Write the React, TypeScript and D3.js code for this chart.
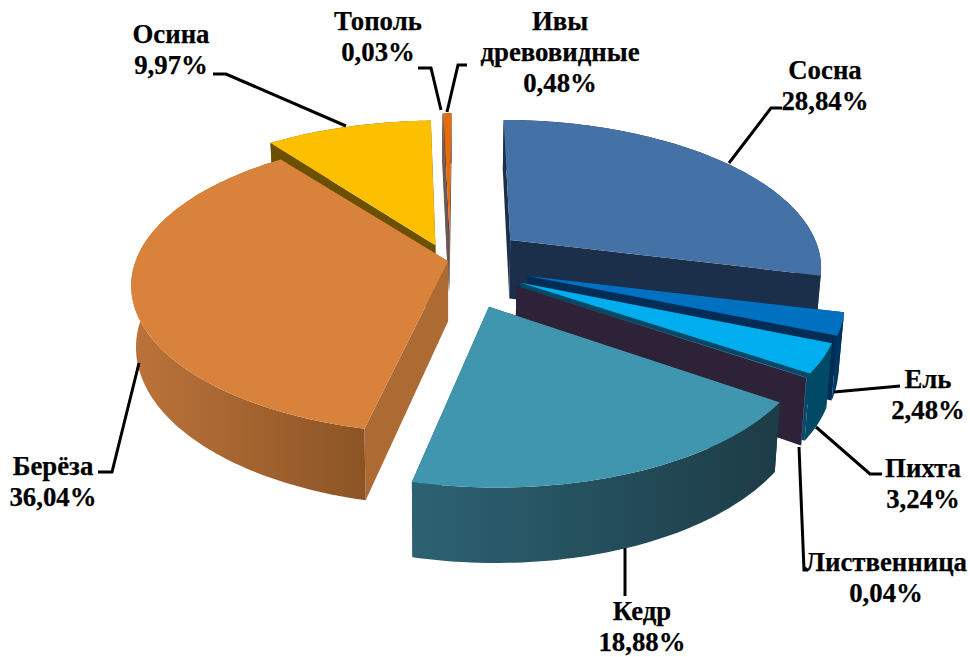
import React from "react";
import * as d3 from "d3";

// ---- data
const names = ["Сосна", "Ель", "Пихта", "Лиственница", "Кедр", "Берёза", "Осина", "Тополь", "Ивы древовидные"];
const values = [28.84, 2.48, 3.24, 0.04, 18.88, 36.04, 9.97, 0.03, 0.48];

// ---- styling per slice
const topColors = ["#4472a6", "#0070c0", "#00aeef", "#5b9bd5", "#4096ae", "#d9823b", "#fdc000", "#a08c80", "#e46c0a"];
const wallColors = ["#1b2f4a", "#002d56", "#004a66", "#2e2238", "#1c3c46", "#ad6a33", "#6b5000", "#6a5a55", "#5b3a3a"];
const outerFrom = ["#1b2f4a", "#003d6b", "#004a66", "#5b9bd5", "#2d6273", "#bb733a", "#6b5000", "#6a5a55", "#5b3a3a"];
const outerTo = ["#1b2f4a", "#002d56", "#004a66", "#5b9bd5", "#1c3c46", "#8c5425", "#6b5000", "#6a5a55", "#5b3a3a"];

// ---- explosion and size of each slice, layout only
const explode = [78, 81, 79, 79, 103, 2, 45, 62, 62];
const radiusScaleX = [0.995, 0.975, 0.975, 0.975, 0.96, 0.995, 1.015, 1.02, 1.02];
const radiusScaleY = [1.03, 0.975, 0.975, 0.975, 0.96, 1.015, 1.07, 1.05, 1.05];
const liftY = [0, 3, 4, 4, 0, 0, 3, 0, 0];
const drawOrder = [8, 7, 6, 0, 5, 1, 2, 3, 4];

// ---- projection of the tilted pie
const CX = 450, CY = 261, R = 314, D = 1940, TILT = 0.453, DEPTH = 60, SHRINK = 0.015;
const FIRST_ANGLE = 0.007;

type Pt = [number, number];
function project(X: number, Y: number, z: number): Pt {
  const s = 1 / (1 - Y / D);
  const x = CX + X * s * (1 - SHRINK * z);
  const y = CY + TILT * Y * s + z * DEPTH * s;
  return [x, y];
}

const pieLayout = d3.pie<number>().sort(null).startAngle(FIRST_ANGLE).endAngle(2 * Math.PI + FIRST_ANGLE);
const arcs = pieLayout(values);
const toPath = d3.line<Pt>().curve(d3.curveLinear);

function sliceGeometry(i: number) {
  const a = arcs[i];
  const mid = (a.startAngle + a.endAngle) / 2;
  const ox = Math.sin(mid) * explode[i];
  const oy = -Math.cos(mid) * explode[i];
  const rx = R * radiusScaleX[i];
  const ry = R * radiusScaleY[i];
  const lift = (p: Pt): Pt => [p[0], p[1] + liftY[i]];
  const rim = (t: number, z: number) => lift(project(ox + Math.sin(t) * rx, oy - Math.cos(t) * ry, z));
  const apex = (z: number) => lift(project(ox, oy, z));
  const n = Math.max(2, Math.ceil((a.endAngle - a.startAngle) / 0.02));
  const ts = d3.range(n + 1).map((k) => a.startAngle + ((a.endAngle - a.startAngle) * k) / n);
  const top = toPath([apex(0), ...ts.map((t) => rim(t, 0))])! + "Z";
  const outer = toPath([...ts.map((t) => rim(t, 0)), ...ts.slice().reverse().map((t) => rim(t, 1))])! + "Z";
  const wallA = toPath([apex(0), rim(a.startAngle, 0), rim(a.startAngle, 1), apex(1)])! + "Z";
  const wallB = toPath([apex(0), rim(a.endAngle, 0), rim(a.endAngle, 1), apex(1)])! + "Z";
  return { top, outer, wallA, wallB };
}

// ---- label layout
const labelLines = [
  ["Сосна", "28,84%"], ["Ель", "2,48%"], ["Пихта", "3,24%"], ["Лиственница", "0,04%"], ["Кедр", "18,88%"],
  ["Берёза", "36,04%"], ["Осина", "9,97%"], ["Тополь", "0,03%"], ["Ивы", "древовидные", "0,48%"],
];
const labelX = [825, 928, 923, 886, 642, 53, 171, 378, 560];
const labelY = [79, 388, 477, 571, 620, 475, 43, 30, 30];
const leaders: Pt[][] = [
  [[729, 163], [771, 108], [782, 108]],
  [[834, 392], [900, 386]],
  [[816, 427], [870, 474], [882, 474]],
  [[799, 447], [804, 570], [808, 570]],
  [[625, 548], [625, 596]],
  [[139, 363], [112, 472], [98, 472]],
  [[346, 126], [226, 74], [213, 74]],
  [[441, 110], [431, 68], [418, 68]],
  [[447, 112], [458, 65], [467, 65]],
];

export default function App() {
  return (
    <svg
      width={970}
      height={657}
      viewBox="0 0 970 657"
      style={{ position: "absolute", left: 0, top: 0, background: "#fff" }}
    >
      <defs>
        {names.map((_, i) => (
          <linearGradient key={i} id={`outer${i}`} x1="0" x2="1" y1="0" y2="0">
            <stop offset="0" stopColor={outerFrom[i]} />
            <stop offset="1" stopColor={outerTo[i]} />
          </linearGradient>
        ))}
      </defs>
      {drawOrder.map((i) => {
        const g = sliceGeometry(i);
        return (
          <g key={i}>
            <path d={g.wallB} fill={wallColors[i]} />
            <path d={g.wallA} fill={wallColors[i]} />
            <path d={g.outer} fill={`url(#outer${i})`} />
            <path d={g.top} fill={topColors[i]} />
          </g>
        );
      })}
      {leaders.map((pts, i) => (
        <path key={i} d={toPath(pts)!} fill="none" stroke="#000" strokeWidth={3} />
      ))}
      {labelLines.map((lines, i) => (
        <text
          key={i}
          textAnchor="middle"
          fontFamily="'Liberation Serif', serif"
          fontWeight="bold"
          fontSize={26.8}
          fill="#000"
          stroke="#000"
          strokeWidth={0.25}
        >
          {lines.map((t, k) => (
            <tspan key={k} x={labelX[i]} y={labelY[i] + k * 31}>
              {t}
            </tspan>
          ))}
        </text>
      ))}
    </svg>
  );
}
